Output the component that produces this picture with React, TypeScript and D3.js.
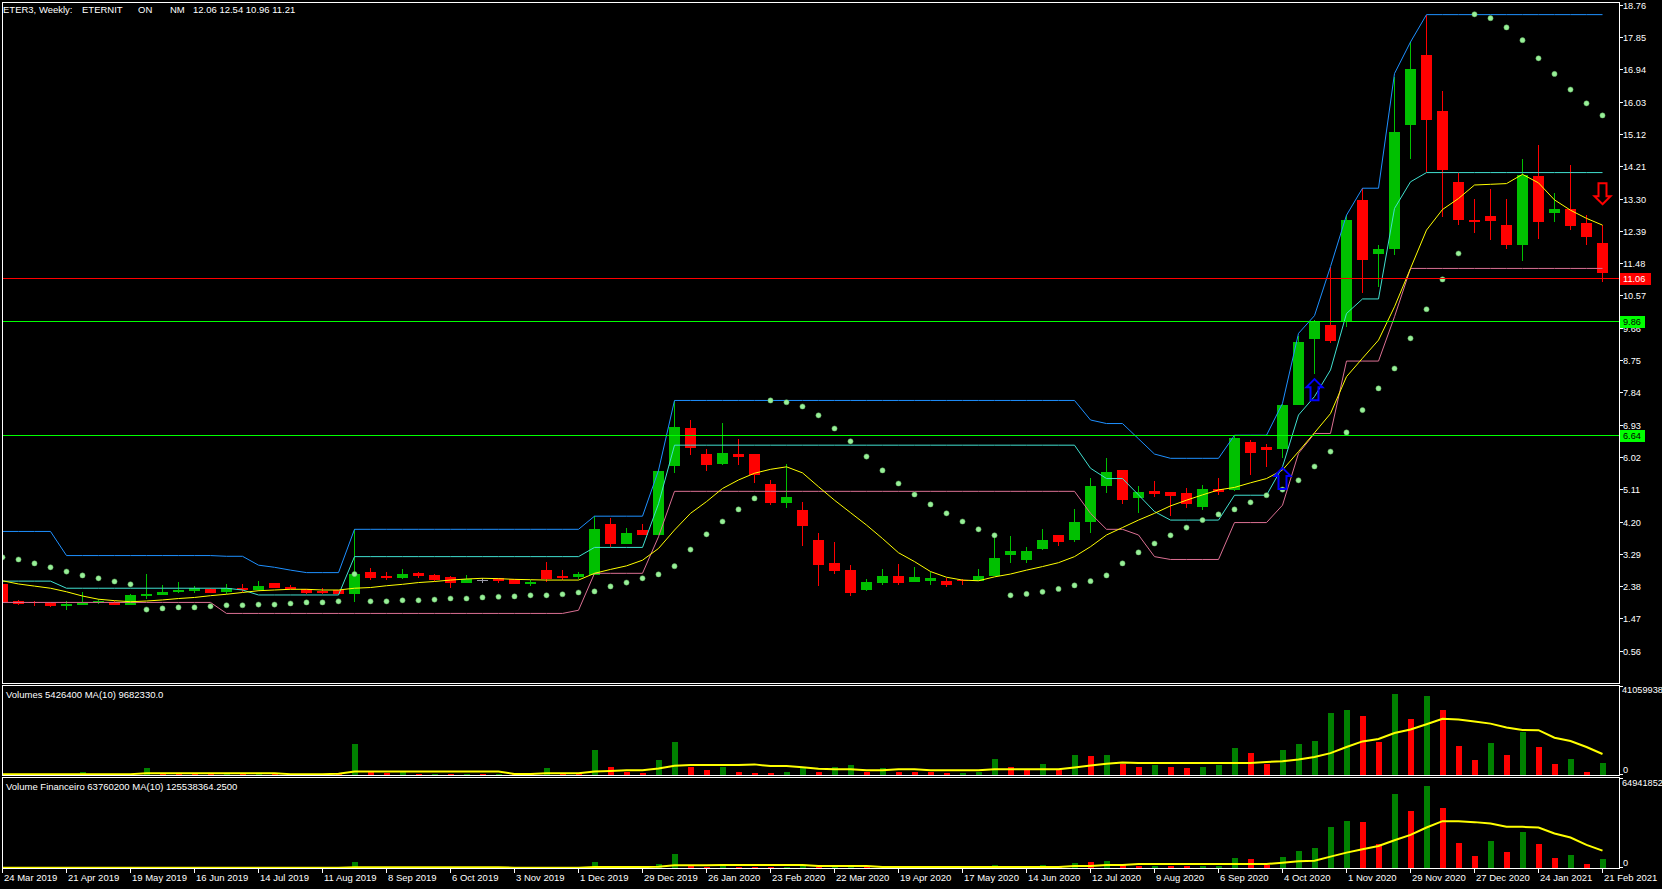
import React from 'react';
import * as d3 from 'd3';

// weekly bars, one label every 4 bars
const tickDates = [
  '24 Mar 2019', '21 Apr 2019', '19 May 2019', '16 Jun 2019', '14 Jul 2019', '11 Aug 2019',
  '8 Sep 2019', '6 Oct 2019', '3 Nov 2019', '1 Dec 2019', '29 Dec 2019', '26 Jan 2020',
  '23 Feb 2020', '22 Mar 2020', '19 Apr 2020', '17 May 2020', '14 Jun 2020', '12 Jul 2020',
  '9 Aug 2020', '6 Sep 2020', '4 Oct 2020', '1 Nov 2020', '29 Nov 2020', '27 Dec 2020',
  '24 Jan 2021', '21 Feb 2021',
];

const priceTicks = [
  '18.76', '17.85', '16.94', '16.03', '15.12', '14.21', '13.30', '12.39', '11.48', '10.57',
  '9.66', '8.75', '7.84', '6.93', '6.02', '5.11', '4.20', '3.29', '2.38', '1.47', '0.56',
];

const opens = [
  2.45, 1.96, 1.93, 1.91, 1.83, 1.86, 1.92, 1.94, 1.85, 2.11, 2.13, 2.21, 2.25, 2.31, 2.22, 2.34, 2.27, 2.47, 2.35, 2.29,
  2.24, 2.26, 2.16, 2.79, 2.66, 2.61, 2.75, 2.69, 2.64, 2.48, 2.54, 2.60, 2.57, 2.45, 2.83, 2.66, 2.63, 2.69, 4.13, 3.57,
  3.96, 3.83, 5.76, 6.83, 6.10, 5.82, 6.10, 6.10, 5.25, 4.72, 4.52, 3.68, 3.03, 2.83, 2.27, 2.46, 2.66, 2.49, 2.52, 2.52,
  2.56, 2.52, 2.66, 3.25, 3.11, 3.42, 3.82, 3.68, 4.18, 5.20, 5.65, 4.86, 5.06, 5.03, 5.00, 4.61, 5.11, 5.08, 6.44, 6.30,
  6.24, 7.48, 9.34, 9.73, 9.86, 13.26, 11.75, 11.88, 15.37, 17.34, 15.76, 13.76, 12.69, 12.81, 12.55, 11.99, 13.94, 12.88, 13.00, 12.61,
  12.06,
];
const highs = [
  2.50, 2.00, 1.97, 1.93, 1.96, 2.21, 2.03, 1.95, 2.15, 2.72, 2.41, 2.49, 2.38, 2.32, 2.44, 2.44, 2.52, 2.48, 2.40, 2.30,
  2.34, 2.27, 3.98, 2.89, 2.77, 2.86, 2.77, 2.72, 2.66, 2.69, 2.60, 2.61, 2.58, 2.55, 3.06, 2.83, 2.78, 4.35, 4.30, 4.02,
  4.13, 5.64, 7.59, 7.06, 6.24, 6.97, 6.52, 6.11, 5.37, 5.82, 4.75, 3.87, 3.62, 2.97, 2.58, 2.86, 3.00, 2.92, 2.78, 2.61,
  2.58, 2.86, 3.82, 3.79, 3.48, 3.99, 3.82, 4.55, 5.42, 5.99, 5.66, 5.20, 5.34, 5.04, 5.14, 5.23, 5.42, 6.63, 6.49, 6.38,
  7.50, 9.42, 9.88, 11.38, 12.83, 13.59, 11.99, 16.73, 17.71, 18.48, 16.33, 14.03, 13.28, 13.57, 13.28, 14.41, 14.81, 13.46, 14.24, 12.83,
  12.54,
];
const lows = [
  1.90, 1.86, 1.83, 1.80, 1.70, 1.85, 1.87, 1.84, 1.84, 2.01, 2.12, 2.19, 2.19, 2.18, 2.16, 2.21, 2.25, 2.32, 2.29, 2.17,
  2.17, 2.15, 1.94, 2.55, 2.55, 2.57, 2.62, 2.53, 2.33, 2.47, 2.46, 2.48, 2.44, 2.38, 2.50, 2.55, 2.58, 2.68, 3.49, 3.56,
  3.82, 3.82, 5.56, 6.07, 5.62, 5.79, 5.79, 5.28, 4.66, 4.58, 3.51, 2.38, 2.72, 2.10, 2.24, 2.41, 2.41, 2.49, 2.41, 2.35,
  2.41, 2.52, 2.66, 3.03, 3.03, 3.39, 3.51, 3.62, 3.87, 5.00, 4.69, 4.44, 4.89, 4.35, 4.58, 4.52, 4.94, 5.07, 5.51, 5.73,
  5.98, 7.47, 8.36, 9.22, 9.69, 10.65, 10.81, 11.71, 14.42, 14.06, 12.77, 12.55, 12.34, 12.13, 11.89, 11.55, 12.17, 12.65, 12.42, 11.99,
  10.96,
];
const closes = [
  1.94, 1.88, 1.92, 1.82, 1.87, 1.91, 1.96, 1.85, 2.13, 2.16, 2.21, 2.27, 2.32, 2.19, 2.34, 2.27, 2.38, 2.33, 2.30, 2.18,
  2.18, 2.16, 2.72, 2.62, 2.61, 2.72, 2.66, 2.55, 2.47, 2.58, 2.54, 2.52, 2.45, 2.50, 2.58, 2.61, 2.72, 3.99, 3.57, 3.87,
  3.83, 5.62, 6.86, 6.28, 5.79, 6.13, 6.02, 5.51, 4.72, 4.89, 4.07, 2.97, 2.80, 2.18, 2.49, 2.66, 2.46, 2.63, 2.60, 2.41,
  2.55, 2.66, 3.17, 3.37, 3.37, 3.68, 3.62, 4.18, 5.20, 5.59, 4.80, 5.03, 4.97, 4.92, 4.69, 5.11, 5.03, 6.55, 6.13, 6.21,
  7.48, 9.26, 9.86, 9.29, 12.69, 11.57, 11.87, 15.17, 16.94, 15.51, 14.10, 12.69, 12.65, 12.67, 11.99, 13.96, 12.65, 13.00, 12.53, 12.21,
  11.21,
];

// channel lines (upper / middle / lower)
const upperBand = [
  3.92, 3.92, 3.92, 3.92, 3.24, 3.24, 3.24, 3.24, 3.24, 3.24, 3.24, 3.24, 3.24, 3.24, 3.22, 3.22, 2.97, 2.91, 2.83, 2.76,
  2.76, 2.76, 3.98, 3.98, 3.98, 3.98, 3.98, 3.98, 3.98, 3.98, 3.98, 3.98, 3.98, 3.98, 3.98, 3.98, 3.98, 4.35, 4.35, 4.35,
  4.35, 5.64, 7.61, 7.61, 7.61, 7.61, 7.61, 7.61, 7.61, 7.61, 7.61, 7.61, 7.61, 7.61, 7.61, 7.61, 7.61, 7.61, 7.61, 7.61,
  7.61, 7.61, 7.61, 7.61, 7.61, 7.61, 7.61, 7.61, 7.06, 6.96, 6.96, 6.53, 6.10, 5.98, 5.98, 5.98, 5.98, 6.63, 6.63, 6.63,
  7.53, 9.50, 10.00, 11.38, 12.83, 13.59, 13.59, 16.82, 17.71, 18.48, 18.48, 18.48, 18.48, 18.48, 18.48, 18.48, 18.48, 18.48, 18.48, 18.48,
  18.48,
];
const midBand = [
  2.52, 2.52, 2.52, 2.52, 2.32, 2.32, 2.32, 2.32, 2.32, 2.32, 2.32, 2.32, 2.32, 2.32, 2.32, 2.27, 2.13, 2.13, 2.13, 2.13,
  2.13, 2.13, 3.21, 3.21, 3.21, 3.21, 3.21, 3.21, 3.21, 3.21, 3.21, 3.21, 3.21, 3.21, 3.21, 3.21, 3.21, 3.47, 3.47, 3.47,
  3.47, 4.70, 6.35, 6.35, 6.35, 6.35, 6.35, 6.35, 6.35, 6.35, 6.35, 6.35, 6.35, 6.35, 6.35, 6.35, 6.35, 6.35, 6.35, 6.35,
  6.35, 6.35, 6.35, 6.35, 6.35, 6.35, 6.35, 6.35, 5.70, 5.41, 5.41, 4.95, 4.48, 4.24, 4.24, 4.24, 4.24, 4.94, 4.94, 4.94,
  5.74, 7.20, 7.72, 8.47, 10.06, 10.47, 10.47, 13.02, 13.77, 14.03, 14.03, 14.03, 14.03, 14.03, 14.03, 14.03, 14.03, 14.03, 14.03, 14.03,
  14.03,
];
const lowerBand = [
  1.92, 1.92, 1.92, 1.92, 1.92, 1.92, 1.92, 1.92, 1.92, 1.92, 1.92, 1.92, 1.92, 1.92, 1.61, 1.61, 1.61, 1.61, 1.61, 1.61,
  1.61, 1.61, 1.61, 1.61, 1.61, 1.61, 1.61, 1.61, 1.61, 1.61, 1.61, 1.61, 1.61, 1.61, 1.61, 1.61, 1.70, 2.74, 2.74, 2.74,
  2.74, 3.77, 5.05, 5.05, 5.05, 5.05, 5.05, 5.05, 5.05, 5.05, 5.05, 5.05, 5.05, 5.05, 5.05, 5.05, 5.05, 5.05, 5.05, 5.05,
  5.05, 5.05, 5.05, 5.05, 5.05, 5.05, 5.05, 5.05, 4.43, 3.98, 3.98, 3.82, 3.21, 3.13, 3.13, 3.13, 3.13, 4.17, 4.17, 4.17,
  4.66, 6.12, 6.68, 6.68, 8.72, 8.72, 8.72, 9.97, 11.33, 11.33, 11.33, 11.33, 11.33, 11.33, 11.33, 11.33, 11.33, 11.33, 11.33, 11.33,
  11.33,
];
const priceMA = [
  2.53, 2.44, 2.38, 2.32, 2.22, 2.10, 2.01, 1.97, 1.94, 1.96, 1.99, 2.03, 2.06, 2.11, 2.15, 2.20, 2.25, 2.27, 2.29, 2.29,
  2.27, 2.27, 2.32, 2.34, 2.39, 2.43, 2.48, 2.51, 2.55, 2.58, 2.60, 2.59, 2.57, 2.56, 2.55, 2.55, 2.55, 2.74, 2.85, 2.95,
  3.11, 3.44, 3.96, 4.43, 4.76, 5.13, 5.37, 5.56, 5.67, 5.74, 5.57, 5.18, 4.80, 4.45, 4.10, 3.72, 3.32, 3.07, 2.79, 2.63,
  2.55, 2.53, 2.64, 2.72, 2.83, 2.93, 3.04, 3.21, 3.49, 3.82, 4.03, 4.24, 4.43, 4.64, 4.80, 4.95, 5.09, 5.16, 5.29, 5.41,
  5.65, 6.17, 6.70, 7.24, 8.28, 8.80, 9.31, 10.25, 11.33, 12.41, 12.99, 13.30, 13.68, 13.70, 13.72, 13.98, 13.74, 13.26, 12.97, 12.74,
  12.55,
];
const sarDots = [
  3.19, 3.13, 3.02, 2.91, 2.79, 2.68, 2.60, 2.51, 2.43, 1.72, 1.75, 1.78, 1.78, 1.81, 1.84, 1.84, 1.86, 1.86, 1.89, 1.92,
  1.92, 1.95, 2.72, 1.95, 1.95, 1.98, 1.98, 2.00, 2.03, 2.03, 2.06, 2.08, 2.09, 2.12, 2.12, 2.15, 2.20, 2.23, 2.37, 2.48,
  2.60, 2.71, 2.94, 3.41, 3.84, 4.20, 4.54, 4.85, 7.61, 7.56, 7.44, 7.19, 6.82, 6.46, 6.03, 5.64, 5.27, 4.96, 4.68, 4.43,
  4.20, 3.98, 3.81, 2.12, 2.16, 2.22, 2.30, 2.40, 2.52, 2.68, 3.02, 3.33, 3.58, 3.81, 4.03, 4.24, 4.40, 4.54, 4.74, 4.94,
  5.10, 5.36, 5.75, 6.17, 6.71, 7.34, 7.95, 8.51, 9.36, 10.18, 11.02, 11.75, 18.49, 18.38, 18.12, 17.76, 17.25, 16.81, 16.37, 15.98,
  15.64,
];

// horizontal levels and signal arrows
const levelPrices = [11.06, 9.86, 6.64];
const arrowBars = [80, 82, 100];
const arrowPrices = [5.71, 8.21, 13.14];
const arrowDirs = ['up', 'up', 'down'];

// volumes, millions
const volumes = [
  0.35, 0.25, 0.30, 0.20, 0.35, 1.16, 0.40, 0.30, 0.45, 3.0, 0.5, 0.4, 0.35, 0.3, 0.45, 0.3, 0.5, 0.4, 0.3, 0.25,
  0.35, 0.3, 14.2, 1.16, 0.7, 1.3, 0.4, 0.5, 0.3, 0.45, 0.35, 0.5, 0.3, 0.25, 3.0, 0.5, 0.4, 11.4, 3.5, 1.3,
  0.7, 6.7, 15.1, 3.9, 2.1, 3.9, 1.2, 1.1, 1.0, 1.6, 3.0, 1.6, 3.9, 4.4, 1.6, 3.0, 1.6, 1.5, 1.16, 0.7,
  0.8, 1.6, 7.2, 3.9, 2.1, 5.3, 2.1, 9.0, 8.6, 9.0, 5.3, 3.5, 4.4, 3.5, 3.0, 3.5, 4.4, 12.3, 10.0, 5.3,
  11.4, 14.2, 15.5, 28.5, 29.9, 27.1, 15.1, 37.4, 25.8, 36.4, 29.9, 13.2, 6.7, 14.6, 9.0, 19.7, 12.8, 5.3, 7.2, 1.6,
  5.4264,
];
const volumeMA = [
  0.39, 0.39, 0.39, 0.39, 0.39, 0.39, 0.39, 0.39, 0.39, 0.85, 0.85, 0.85, 0.85, 0.85, 0.85, 0.85, 0.85, 0.85, 0.39, 0.39,
  0.39, 0.6, 1.6, 1.6, 1.6, 1.6, 1.6, 1.6, 1.6, 1.6, 1.6, 1.6, 0.5, 0.5, 0.85, 0.85, 0.85, 1.6, 1.9, 2.2,
  2.2, 3.0, 4.3, 4.6, 4.6, 4.6, 4.6, 4.9, 4.1, 4.1, 3.6, 2.9, 2.7, 2.7, 2.2, 2.2, 2.7, 2.7, 2.2, 2.2,
  2.2, 2.2, 2.7, 2.7, 2.7, 2.7, 2.7, 3.5, 4.4, 5.2, 5.8, 5.5, 5.5, 5.5, 5.5, 5.5, 5.5, 5.5, 5.5, 6.0,
  6.4, 7.2, 8.3, 10.1, 12.9, 15.5, 16.6, 19.4, 21.0, 23.4, 25.9, 25.6, 24.7, 23.7, 21.9, 20.8, 20.7, 17.2, 15.7, 12.9,
  9.68233,
];
const financeiro = [
  0.7, 0.5, 0.6, 0.4, 0.7, 2.2, 0.8, 0.6, 0.9, 6.5, 1.1, 0.9, 0.8, 0.7, 1.0, 0.7, 1.1, 0.9, 0.7, 0.5,
  0.8, 0.6, 43, 3.1, 1.8, 3.4, 1.0, 1.3, 0.7, 1.1, 0.9, 1.3, 0.8, 0.6, 8.5, 1.3, 1.1, 43, 9, 4.5,
  2.7, 27, 101, 14.5, 7, 19, 7, 6.5, 6, 7.5, 14, 7, 14, 15, 7, 10, 6, 5, 3.5, 2,
  2.2, 4.5, 19, 12, 6.5, 19, 7.5, 34, 41, 48, 19, 12, 14, 12, 11, 12, 14, 70, 63, 19,
  77, 121, 142, 295, 338, 331, 171, 534, 410, 591, 432, 179, 84, 193, 113, 258, 171, 70, 92, 27,
  63.7602,
];
const financeiroMA = [
  1.0, 1.0, 1.0, 1.0, 1.0, 1.0, 1.0, 1.0, 1.0, 1.5, 1.5, 1.5, 1.5, 1.5, 1.5, 1.5, 1.5, 1.5, 1.5, 1.5,
  1.5, 1.5, 5.8, 5.8, 5.8, 5.8, 5.8, 5.8, 5.8, 5.8, 5.8, 5.8, 1.5, 1.5, 2.3, 2.3, 2.3, 6.5, 6.5, 6.5,
  6.5, 9, 19, 20, 20, 22, 22, 21, 21, 21, 21, 14.5, 14.5, 14.5, 14.5, 7.2, 7.2, 7.2, 7.2, 7.2,
  7.2, 7.2, 7.2, 7.2, 7.2, 7.2, 7.2, 14.5, 14.5, 21.7, 21.7, 29, 29, 29, 29, 29, 29, 29, 29, 29,
  38.6, 48.3, 53, 82, 111, 135, 159, 200, 239, 292, 338, 338, 331, 321, 297, 297, 292, 249, 220, 167,
  125.538364,
];

const volumeMax = 41059938;
const financeiroMax = 649418520;

const BULL = '#00C000';
const BEAR = '#FF0000';
const VOL_UP = '#008000';
const FONT = "'Liberation Sans', Arial, sans-serif";

const x = d3.scaleLinear().domain([0, 100]).range([2, 1602]);
const yPrice = d3.scaleLinear().domain([0.56, 18.76]).range([650.7, 4.7]);
const yVol = d3.scaleLinear().domain([0, volumeMax]).range([775, 686]);
const yFin = d3.scaleLinear().domain([0, financeiroMax]).range([868, 778]);

const priceLine = (vals: number[]) =>
  d3.line<number>().x((_, i) => x(i) + 0.5).y(v => yPrice(v))(vals) || '';

export default function App() {
  const idx = d3.range(opens.length);
  const volPath = d3.line<number>().x((_, i) => x(i) + 0.5).y(v => yVol(v * 1e6))(volumeMA) || '';
  const finPath = d3.line<number>().x((_, i) => x(i) + 0.5).y(v => yFin(v * 1e6))(financeiroMA) || '';
  const volColor = (i: number) => (i === 0 || volumes[i] > volumes[i - 1] ? VOL_UP : BEAR);

  const last = opens.length - 1;
  const ohlcText = [opens[last], highs[last], lows[last], closes[last]].map(v => v.toFixed(2)).join(' ');

  const levelStyles = [
    { bg: '#FF0000', fg: '#FFFFFF', line: '#FF0000' },
    { bg: '#00FF00', fg: '#000000', line: '#00FF00' },
    { bg: '#00FF00', fg: '#000000', line: '#00FF00' },
  ];

  return (
    <div style={{ position: 'fixed', left: 0, top: 0, width: 1662, height: 889, background: '#000' }}>
      <svg width={1662} height={889} style={{ display: 'block', fontFamily: FONT }} shapeRendering="crispEdges">
        <defs>
          <clipPath id="pricePanel"><rect x={3} y={3} width={1616} height={680} /></clipPath>
          <clipPath id="volPanel"><rect x={3} y={686} width={1616} height={89} /></clipPath>
          <clipPath id="finPanel"><rect x={3} y={778} width={1616} height={90} /></clipPath>
        </defs>
        <rect x={0} y={0} width={1662} height={889} fill="#000" />

        {/* price panel */}
        <g clipPath="url(#pricePanel)">
          {idx.map(i => {
            const cx = x(i);
            const o = opens[i], c = closes[i];
            const col = c > o ? BULL : c < o ? BEAR : '#9a9aa8';
            const top = yPrice(Math.max(o, c));
            const bot = yPrice(Math.min(o, c));
            return (
              <g key={i}>
                <rect x={cx} y={yPrice(highs[i])} width={1} height={yPrice(lows[i]) - yPrice(highs[i])} fill={col} />
                <rect x={cx - 5} y={top} width={11} height={Math.max(1, bot - top)} fill={col} />
              </g>
            );
          })}
          <path d={priceLine(upperBand)} fill="none" stroke="#1E90FF" strokeWidth={1} shapeRendering="auto" />
          <path d={priceLine(midBand)} fill="none" stroke="#40E0D0" strokeWidth={1} shapeRendering="auto" />
          <path d={priceLine(lowerBand)} fill="none" stroke="#DB7093" strokeWidth={1} shapeRendering="auto" />
          <path d={priceLine(priceMA)} fill="none" stroke="#FFFF00" strokeWidth={1} shapeRendering="auto" />
          {sarDots.map((v, i) => (
            <circle key={i} cx={x(i) + 0.5} cy={yPrice(v)} r={2.6} fill="#98F098" stroke="#5fa85f" strokeWidth={0.5} shapeRendering="auto" />
          ))}
          {levelPrices.map((p, k) => (
            <line key={k} x1={3} x2={1619} y1={Math.round(yPrice(p)) + 0.5} y2={Math.round(yPrice(p)) + 0.5} stroke={levelStyles[k].line} strokeWidth={1} />
          ))}
          {arrowBars.map((b, k) => {
            const cx = x(b) + 0.5;
            const ty = yPrice(arrowPrices[k]);
            const s = arrowDirs[k] === 'up' ? 1 : -1;
            const d = `M${cx},${ty} l8,${8 * s} l-4,0 l0,${13 * s} l-8,0 l0,${-13 * s} l-4,0 Z`;
            return (
              <path key={k} d={d} fill="none" stroke={arrowDirs[k] === 'up' ? '#0000FF' : '#FF0000'} strokeWidth={2} strokeLinejoin="miter" shapeRendering="auto" />
            );
          })}
        </g>

        {/* volumes panel */}
        <g clipPath="url(#volPanel)">
          {volumes.map((v, i) => {
            const yTop = yVol(v * 1e6);
            return <rect key={i} x={x(i) - 2.5} y={yTop} width={6} height={775 - yTop} fill={volColor(i)} />;
          })}
          <path d={volPath} fill="none" stroke="#FFFF00" strokeWidth={2} shapeRendering="auto" />
        </g>

        {/* volume financeiro panel */}
        <g clipPath="url(#finPanel)">
          {financeiro.map((v, i) => {
            const yTop = yFin(v * 1e6);
            return <rect key={i} x={x(i) - 2.5} y={yTop} width={6} height={868 - yTop} fill={volColor(i)} />;
          })}
          <path d={finPath} fill="none" stroke="#FFFF00" strokeWidth={2} shapeRendering="auto" />
        </g>

        {/* frames */}
        <rect x={2.5} y={2.5} width={1617} height={681} fill="none" stroke="#FFFFFF" strokeWidth={1} />
        <rect x={2.5} y={685.5} width={1617} height={90} fill="none" stroke="#FFFFFF" strokeWidth={1} />
        <rect x={2.5} y={777.5} width={1617} height={91} fill="none" stroke="#FFFFFF" strokeWidth={1} />

        {/* titles */}
        <g fill="#FFFFFF" fontSize={9.5}>
          <text x={3} y={13}>ETER3, Weekly:</text>
          <text x={82} y={13}>ETERNIT</text>
          <text x={138} y={13}>ON</text>
          <text x={170} y={13}>NM</text>
          <text x={193} y={13}>{ohlcText}</text>
          <text x={6} y={698}>Volumes 5426400 MA(10) 9682330.0</text>
          <text x={6} y={790}>Volume Financeiro 63760200 MA(10) 125538364.2500</text>
        </g>

        {/* price axis */}
        <g fill="#FFFFFF" fontSize={9.2}>
          {priceTicks.map(t => {
            const yy = Math.round(yPrice(+t)) + 0.5;
            return (
              <g key={t}>
                <line x1={1619} x2={1623} y1={yy} y2={yy} stroke="#FFFFFF" />
                <text x={1623} y={yy} dominantBaseline="central">{t}</text>
              </g>
            );
          })}
          {levelPrices.map((p, k) => {
            const label = p.toFixed(2);
            const yy = yPrice(p);
            return (
              <g key={k}>
                <rect x={1620} y={Math.round(yy) - 5.5} width={label.length * 5.3 + 4} height={12} fill={levelStyles[k].bg} />
                <text x={1623} y={Math.round(yy) + 0.5} dominantBaseline="central" fill={levelStyles[k].fg}>{label}</text>
              </g>
            );
          })}
          <line x1={1619} x2={1623} y1={686.5} y2={686.5} stroke="#FFFFFF" />
          <line x1={1619} x2={1623} y1={774.5} y2={774.5} stroke="#FFFFFF" />
          <text x={1622} y={690} dominantBaseline="central">{String(volumeMax)}</text>
          <text x={1623} y={770} dominantBaseline="central">0</text>
          <line x1={1619} x2={1623} y1={778.5} y2={778.5} stroke="#FFFFFF" />
          <line x1={1619} x2={1623} y1={867.5} y2={867.5} stroke="#FFFFFF" />
          <text x={1622} y={782.5} dominantBaseline="central">{String(financeiroMax)}</text>
          <text x={1623} y={862.5} dominantBaseline="central">0</text>
        </g>

        {/* time axis */}
        <g fill="#FFFFFF" fontSize={9.5}>
          {tickDates.map((d, k) => {
            const xx = x(k * 4) + 0.5;
            return (
              <g key={d}>
                <line x1={xx} x2={xx} y1={868} y2={873} stroke="#FFFFFF" />
                <text x={xx + 1.5} y={881}>{d}</text>
              </g>
            );
          })}
        </g>
      </svg>
    </div>
  );
}
